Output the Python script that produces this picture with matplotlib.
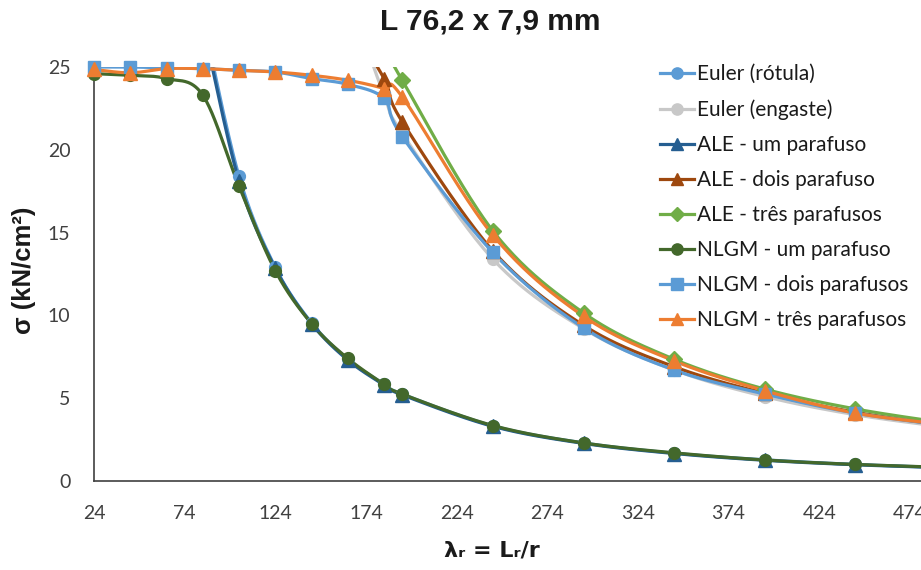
import numpy as np
import matplotlib
matplotlib.use("Agg")
import matplotlib.pyplot as plt
from matplotlib.lines import Line2D
from matplotlib import font_manager

# ---------------- data ----------------
lam_euler_rot = [84, 104, 124, 144, 164, 184, 194, 244, 294, 344, 394, 444, 494]
euler_rotula = [28.0, 18.4, 12.9, 9.55, 7.35, 5.85, 5.25, 3.33, 2.3, 1.68, 1.28, 1.0, 0.81]

lam_euler_eng = [164, 184, 194, 244, 294, 344, 394, 444, 494]
euler_engaste = [29.4, 23.3, 21.0, 13.4, 9.2, 6.7, 5.1, 4.0, 3.25]

lam_ale1 = [84, 104, 124, 144, 164, 184, 194, 244, 294, 344, 394, 444, 494]
ale_um = [27.6, 18.1, 12.85, 9.5, 7.3, 5.8, 5.2, 3.3, 2.27, 1.66, 1.25, 0.98, 0.8]

lam_ale2 = [164, 184, 194, 244, 294, 344, 394, 444, 494]
ale_dois = [27.8, 24.3, 21.7, 13.9, 9.4, 6.9, 5.3, 4.15, 3.35]

lam_ale3 = [184, 194, 244, 294, 344, 394, 444, 494]
ale_tres = [26.3, 24.2, 15.1, 10.15, 7.35, 5.55, 4.35, 3.5]

lam_nlgm = [24, 44, 64, 84, 104, 124, 144, 164, 184, 194, 244, 294, 344, 394, 444, 494]
nlgm_um = [24.6, 24.5, 24.3, 23.3, 17.8, 12.7, 9.5, 7.4, 5.85, 5.25, 3.35, 2.3, 1.7, 1.27, 1.0, 0.82]
nlgm_dois = [25.0, 25.0, 24.95, 24.9, 24.8, 24.7, 24.3, 23.95, 23.1, 20.8, 13.8, 9.25, 6.7, 5.25, 4.1, 3.35]
nlgm_tres = [24.85, 24.65, 24.9, 24.9, 24.8, 24.7, 24.5, 24.2, 23.7, 23.2, 14.85, 9.95, 7.25, 5.45, 4.1, 3.4]

x_ticks = [24, 74, 124, 174, 224, 274, 324, 374, 424, 474]
y_ticks = [0, 5, 10, 15, 20, 25]

title = "L 76,2 x 7,9 mm"
xlabel = "λᵣ = Lᵣ/r"
ylabel = "σ (kN/cm²)"

series = [
    ("Euler (rótula)", lam_euler_rot, euler_rotula, "#5B9BD5", "o"),
    ("Euler (engaste)", lam_euler_eng, euler_engaste, "#C8C8C8", "o"),
    ("ALE - um parafuso", lam_ale1, ale_um, "#255E91", "^"),
    ("ALE - dois parafuso", lam_ale2, ale_dois, "#9E480E", "^"),
    ("ALE - três parafusos", lam_ale3, ale_tres, "#70AD47", "D"),
    ("NLGM - um parafuso", lam_nlgm, nlgm_um, "#43682B", "o"),
    ("NLGM - dois parafusos", lam_nlgm, nlgm_dois, "#5B9BD5", "s"),
    ("NLGM - três parafusos", lam_nlgm, nlgm_tres, "#ED7D31", "^"),
]

# ---------------- fonts ----------------
avail = {f.name for f in font_manager.fontManager.ttflist}
tick_font = "Liberation Sans Narrow" if "Liberation Sans Narrow" in avail else "Lato"
leg_font = "Lato" if "Lato" in avail else "DejaVu Sans"
bold_font = "Liberation Sans" if "Liberation Sans" in avail else "DejaVu Sans"


def smooth(xs, ys, n=40):
    pts = np.column_stack([xs, ys]).astype(float)
    out = []
    for i in range(len(pts) - 1):
        p0 = pts[i - 1] if i > 0 else pts[i]
        p1 = pts[i]
        p2 = pts[i + 1]
        p3 = pts[i + 2] if i + 2 < len(pts) else pts[i + 1]
        c1 = p1 + (p2 - p0) / 6.0
        c2 = p2 - (p3 - p1) / 6.0
        t = np.linspace(0, 1, n)[:, None]
        seg = (1 - t) ** 3 * p1 + 3 * (1 - t) ** 2 * t * c1 + 3 * (1 - t) * t ** 2 * c2 + t ** 3 * p2
        out.append(seg if i == 0 else seg[1:])
    return np.vstack(out)


fig = plt.figure(figsize=(9.21, 5.70), dpi=100)
ax_left, ax_bottom = 94 / 921, (570 - 481) / 570
ax_h = (481 - 67) / 570
xmin, xmax = 24, 524
ax_w = (xmax - xmin) * 1.813 / 921
ax = fig.add_axes([ax_left, ax_bottom, ax_w, ax_h])
ax.set_xlim(xmin, xmax)
ax.set_ylim(0, 25)

handles = []
ms = {"o": 8.5, "^": 9.5, "D": 8.0, "s": 8.5}
for i, (name, xs, ys, col, mk) in enumerate(series):
    curve = smooth(xs, ys)
    ax.plot(curve[:, 0], curve[:, 1], color=col, lw=2.3, zorder=2 + i * 0.1, solid_capstyle="round")
    xv = np.array(xs, float)
    yv = np.array(ys, float)
    keep = (yv <= 25.3) & (xv <= 480)
    ax.plot(xv[keep], yv[keep], ls="none", marker=mk, ms=ms[mk], color=col,
            markeredgecolor=col, zorder=3 + i * 0.1, clip_on=False)
    handles.append(Line2D([0], [0], color=col, lw=2.3, marker=mk, ms=ms[mk] * 0.95,
                          markeredgecolor=col))

for s in ["top", "right"]:
    ax.spines[s].set_visible(False)
for s in ["left", "bottom"]:
    ax.spines[s].set_color("#404040")
    ax.spines[s].set_linewidth(1.2)

ax.set_xticks(x_ticks)
ax.set_yticks(y_ticks)
ax.tick_params(length=0, labelsize=14, colors="#404040")
ax.tick_params(axis="x", pad=17)
ax.tick_params(axis="y", pad=17)
for lab in ax.get_xticklabels() + ax.get_yticklabels():
    lab.set_fontfamily(tick_font)
    lab.set_color("#404040")

fig.text(490 / 921, 1 - 22 / 570, title, ha="center", va="center",
         fontsize=21.5, fontweight="bold", family=bold_font, color="#1a1a1a")
fig.text(492 / 921, 1 - 550 / 570, xlabel, ha="center", va="center",
         fontsize=16, fontweight="bold", family="DejaVu Sans", color="#1a1a1a")
fig.text(24 / 921, 1 - 270 / 570, ylabel, ha="center", va="center", rotation=90,
         fontsize=18.5, fontweight="bold", family=bold_font, color="#1a1a1a")

leg = fig.legend(handles, [s[0] for s in series], loc="upper left",
                 bbox_to_anchor=(652 / 921, 1 - 56 / 570), frameon=False,
                 prop={"family": leg_font, "size": 15}, handlelength=1.6,
                 handletextpad=0.15, labelspacing=0.72, borderaxespad=0)
for t in leg.get_texts():
    t.set_color("#1a1a1a")

fig.savefig("out.png", dpi=100)
